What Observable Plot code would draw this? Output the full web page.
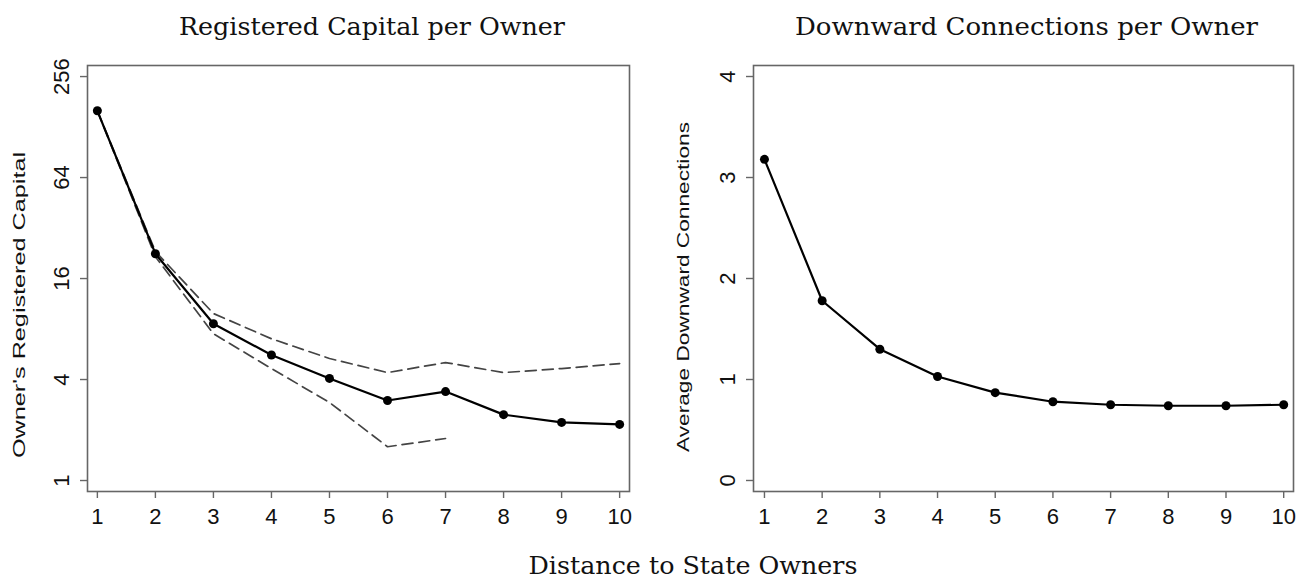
<!DOCTYPE html>
<html><head><meta charset="utf-8">
<script src="https://cdn.jsdelivr.net/npm/d3@7"></script>
<script src="https://cdn.jsdelivr.net/npm/@observablehq/plot@0.6"></script>
<style>
body{margin:0;background:#fff;}
#wrap{position:relative;width:1305px;height:581px;overflow:hidden;background:#fff;}
#wrap > svg{position:absolute;top:0;}
</style></head><body><div id="wrap"></div>
<script>
// ---- data ----
const distance = [1, 2, 3, 4, 5, 6, 7, 8, 9, 10];
const capitalMean  = [160, 22.5, 8.6, 5.6, 4.06, 3.0, 3.39, 2.47, 2.22, 2.16];
const capitalUpper = [160, 23.2, 9.9, 7.0, 5.34, 4.4, 5.05, 4.4, 4.65, 4.98];
const capitalLower = [160, 21.6, 7.5, 4.65, 2.92, 1.59, 1.78, null, null, null];
const connections  = [3.18, 1.78, 1.30, 1.03, 0.87, 0.78, 0.75, 0.74, 0.74, 0.75];
const capitalTicks = [1, 4, 16, 64, 256];
const connTicks = [0, 1, 2, 3, 4];
const titles = ["Registered Capital per Owner", "Downward Connections per Owner"];
const yLabels = ["Owner's Registered Capital", "Average Downward Connections"];
const xLabel = "Distance to State Owners";

const capData = distance.map((d, i) => ({d, mean: capitalMean[i], upper: capitalUpper[i], lower: capitalLower[i]}));
const connData = distance.map((d, i) => ({d, v: connections[i]}));

const wrap = document.getElementById("wrap");
const baseStyle = {fontFamily: "'Liberation Sans', Arial, sans-serif", fontSize: "22px", color: "#111", background: "transparent", overflow: "visible"};
const axisOpts = {tickSize: 7, stroke: "#666", strokeWidth: 1.4, label: null, fontSize: 22, tickFormat: d => String(d)};
const dash = {stroke: "#444", strokeWidth: 1.7, strokeDasharray: "11,6"};

const left = Plot.plot({
  width: 650, height: 545,
  marginLeft: 87, marginRight: 21, marginTop: 65, marginBottom: 54,
  style: baseStyle,
  x: {domain: [0.83, 10.17]},
  y: {type: "log", base: 2, domain: [0.86, 298]},
  marks: [
    Plot.axisX({...axisOpts, ticks: distance, tickPadding: 10}),
    Plot.axisY({...axisOpts, ticks: capitalTicks, tickRotate: -90, tickPadding: 12}),
    Plot.frame({stroke: "#666", strokeWidth: 1.6}),
    Plot.line(capData, {x: "d", y: "upper", ...dash}),
    Plot.line(capData.filter(d => d.lower != null), {x: "d", y: "lower", ...dash}),
    Plot.line(capData, {x: "d", y: "mean", stroke: "#000", strokeWidth: 2.2}),
    Plot.dot(capData, {x: "d", y: "mean", r: 4.5, fill: "#000"})
  ]
});
left.style.left = "0px";
wrap.appendChild(left);

const right = Plot.plot({
  width: 650, height: 545,
  marginLeft: 98, marginRight: 12, marginTop: 65, marginBottom: 54,
  style: baseStyle,
  x: {domain: [0.81, 10.17]},
  y: {domain: [-0.109, 4.109]},
  marks: [
    Plot.axisX({...axisOpts, ticks: distance, tickPadding: 10}),
    Plot.axisY({...axisOpts, ticks: connTicks, tickRotate: -90, tickPadding: 12}),
    Plot.frame({stroke: "#666", strokeWidth: 1.6}),
    Plot.line(connData, {x: "d", y: "v", stroke: "#000", strokeWidth: 2.2}),
    Plot.dot(connData, {x: "d", y: "v", r: 4.5, fill: "#000"})
  ]
});
right.style.left = "655px";
wrap.appendChild(right);

// ---- overlay text ----
const ov = d3.select(wrap).append("svg")
  .attr("width", 1305).attr("height", 581)
  .style("left", "0px").style("pointer-events", "none");
const serif = "'DejaVu Serif', 'Liberation Serif', serif";
const sans = "'Liberation Sans', Arial, sans-serif";
function t(txt, x, y, w, size, fam, rot) {
  const e = ov.append("text").text(txt)
    .attr("text-anchor", "middle")
    .attr("font-family", fam).attr("font-size", size).attr("fill", "#111")
    .attr("textLength", w).attr("lengthAdjust", "spacingAndGlyphs");
  if (rot) e.attr("transform", `translate(${x},${y}) rotate(-90)`);
  else e.attr("x", x).attr("y", y);
}
t(titles[0], 372, 35, 386, 25, serif, false);
t(titles[1], 1026.5, 35, 463, 25, serif, false);
t(xLabel, 693, 574, 329, 25, serif, false);
t(yLabels[0], 24.5, 305, 306, 16, sans, true);
t(yLabels[1], 689, 287, 330, 16, sans, true);
</script></body></html>
